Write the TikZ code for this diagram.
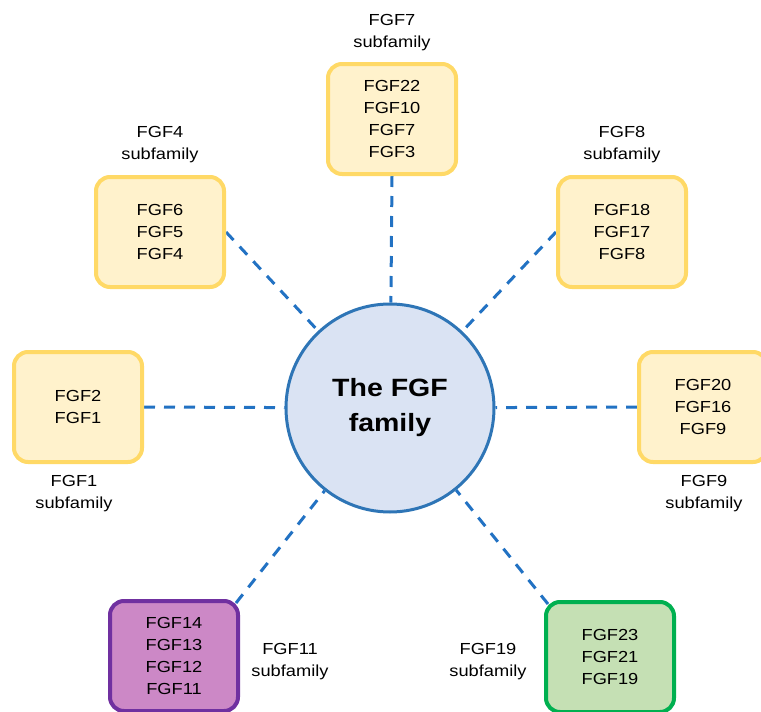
\documentclass[tikz,border=0pt]{standalone}
\usepackage{fontspec}
\setmainfont[FakeStretch=1.14]{Liberation Sans}
\usetikzlibrary{backgrounds}
\definecolor{yfill}{HTML}{FFF2CC}
\definecolor{ydraw}{HTML}{FFD966}
\definecolor{cfill}{HTML}{DAE3F3}
\definecolor{cdraw}{HTML}{2E75B6}
\definecolor{pfill}{HTML}{CC88C6}
\definecolor{pdraw}{HTML}{7030A0}
\definecolor{gfill}{HTML}{C5E0B4}
\definecolor{gdraw}{HTML}{00B050}
\definecolor{linec}{HTML}{2272C3}
\tikzset{
  box/.style={rectangle, rounded corners=14pt, minimum width=128pt, minimum height=110pt,
    line width=4pt, align=center, inner sep=0pt, font=\fontsize{16}{22}\selectfont},
  ybox/.style={box, draw=ydraw, fill=yfill},
  pbox/.style={box, draw=pdraw, fill=pfill},
  gbox/.style={box, draw=gdraw, fill=gfill},
  lbl/.style={align=center, inner sep=0pt, font=\fontsize{16}{22}\selectfont},
  conn/.style={draw=linec, line width=3pt, dash pattern=on 11pt off 9pt},
}
\begin{document}
\begin{tikzpicture}[x=1pt, y=-1pt]
\useasboundingbox (0,0) rectangle (761,712);
\clip (0,0) rectangle (761,712);
\node[circle, draw=cdraw, fill=cfill, line width=3pt, minimum size=208pt, inner sep=0pt,
  align=center, font=\fontsize{25}{35}\selectfont\bfseries] (fam) at (390,408) {The FGF\\family};
\node[ybox] (b7) at (392,119) {FGF22\\FGF10\\FGF7\\FGF3};
\node[ybox] (b4) at (160,232) {FGF6\\FGF5\\FGF4};
\node[ybox] (b8) at (622,232) {FGF18\\FGF17\\FGF8};
\node[ybox] (b1) at (78,407) {FGF2\\FGF1};
\node[ybox] (b9) at (703,407) {FGF20\\FGF16\\FGF9};
\node[pbox] (b11) at (174,656) {FGF14\\FGF13\\FGF12\\FGF11};
\node[gbox] (b19) at (610,657) {FGF23\\FGF21\\FGF19};
\node[lbl] (l7) at (392,33) {FGF7\\subfamily};
\node[lbl] (l4) at (160,145) {FGF4\\subfamily};
\node[lbl] (l8) at (622,145) {FGF8\\subfamily};
\node[lbl] (l1) at (74,494) {FGF1\\subfamily};
\node[lbl] (l9) at (704,494) {FGF9\\subfamily};
\node[lbl] (l11) at (290,662) {FGF11\\subfamily};
\node[lbl] (l19) at (488,662) {FGF19\\subfamily};
\begin{pgfonlayer}{background}
\draw[conn] (b7.south) -- (fam);
\draw[conn] (b4.east) -- (fam);
\draw[conn] (b8.west) -- (fam);
\draw[conn] (b1.east) -- (fam);
\draw[conn] (b9.west) -- (fam);
\draw[conn] ([shift={(-4,4)}]b11.north east) -- (fam);
\draw[conn] ([shift={(4,4)}]b19.north west) -- (fam);
\end{pgfonlayer}
\end{tikzpicture}
\end{document}
